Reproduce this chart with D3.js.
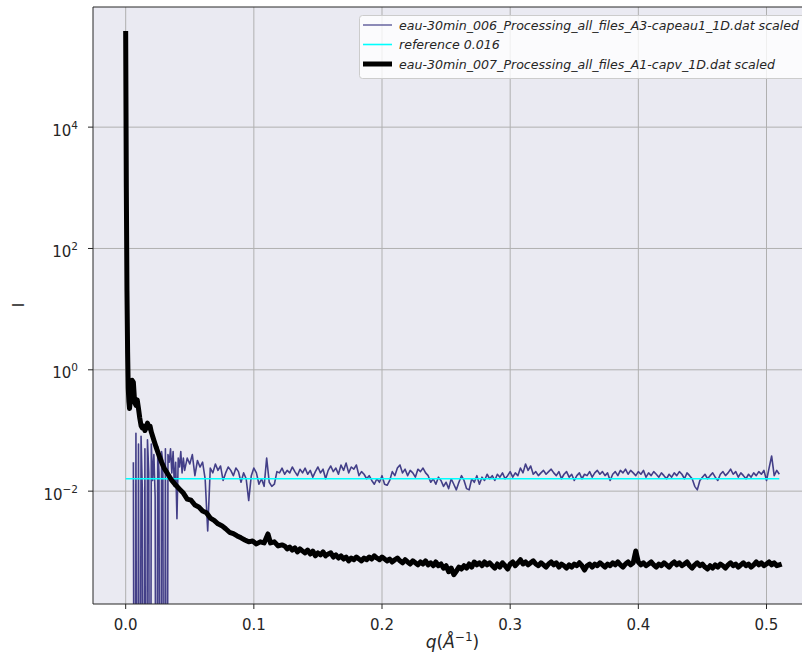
<!DOCTYPE html>
<html>
<head>
<meta charset="utf-8">
<script src="https://cdn.jsdelivr.net/npm/d3@7"></script>
<style>
  html, body { margin: 0; padding: 0; background: #ffffff; }
  svg { display: block; font-family: "DejaVu Sans", sans-serif; }
</style>
</head>
<body>
<svg id="chart" width="802" height="655"></svg>
<script>
// ---------- data ----------
const xTicks = [0.0, 0.1, 0.2, 0.3, 0.4, 0.5];
const xTickLabels = ["0.0", "0.1", "0.2", "0.3", "0.4", "0.5"];
const yTickExps = [-2, 0, 2, 4];

const seriesNames = [
  "eau-30min_006_Processing_all_files_A3-capeau1_1D.dat scaled",
  "reference 0.016",
  "eau-30min_007_Processing_all_files_A1-capv_1D.dat scaled"
];

// series 1 (blue, noisy curve)
const blueQ = [
  0.006,0.007,0.008,0.009,0.010,0.011,0.012,0.013,0.014,0.015,
  0.016,0.017,0.018,0.019,0.020,0.021,0.022,0.023,0.024,0.025,
  0.026,0.027,0.028,0.029,0.030,0.031,0.032,0.033,0.034,0.035,
  0.036,0.037,0.038,0.039,0.040,0.041,0.042,0.043,0.044,0.045,
  0.046,
  0.048,0.050,0.052,0.054,0.056,0.058,0.060,0.062,0.064,0.066,
  0.068,0.070,0.072,0.074,0.076,0.078,0.080,0.082,0.084,0.086,
  0.088,0.090,0.092,0.094,0.096,0.098,0.100,0.102,0.104,0.106,
  0.108,0.110,0.112,0.114,0.116,0.118,0.120,0.122,0.124,0.126,
  0.128,0.130,0.132,0.134,0.136,0.138,0.140,0.142,0.144,0.146,
  0.148,0.150,0.152,0.154,0.156,0.158,0.160,0.162,0.164,0.166,
  0.168,0.170,0.172,0.174,0.176,0.178,0.180,0.182,0.184,0.186,
  0.188,0.190,0.192,0.194,0.196,0.198,0.200,0.202,0.204,0.206,
  0.208,0.210,0.212,0.214,0.216,0.218,0.220,0.222,0.224,0.226,
  0.228,0.230,0.232,0.234,0.236,0.238,0.240,0.242,0.244,0.246,
  0.248,0.250,0.252,0.254,0.256,0.258,0.260,0.262,0.264,0.266,
  0.268,0.270,0.272,0.274,0.276,0.278,0.280,0.282,0.284,0.286,
  0.288,0.290,0.292,0.294,0.296,0.298,0.300,0.302,0.304,0.306,
  0.308,0.310,0.312,0.314,0.316,0.318,0.320,0.322,0.324,0.326,
  0.328,0.330,0.332,0.334,0.336,0.338,0.340,0.342,0.344,0.346,
  0.348,0.350,0.352,0.354,0.356,0.358,0.360,0.362,0.364,0.366,
  0.368,0.370,0.372,0.374,0.376,0.378,0.380,0.382,0.384,0.386,
  0.388,0.390,0.392,0.394,0.396,0.398,0.400,0.402,0.404,0.406,
  0.408,0.410,0.412,0.414,0.416,0.418,0.420,0.422,0.424,0.426,
  0.428,0.430,0.432,0.434,0.436,0.438,0.440,0.442,0.444,0.446,
  0.448,0.450,0.452,0.454,0.456,0.458,0.460,0.462,0.464,0.466,
  0.468,0.470,0.472,0.474,0.476,0.478,0.480,0.482,0.484,0.486,
  0.488,0.490,0.492,0.494,0.496,0.498,0.500,0.502,0.504,0.506,
  0.508,0.510
];
const blueI = [
  0.03,-0.02,0.09,-0.05,0.06,-0.03,0.08,0.01,-0.04,0.05,
  -0.02,0.07,0.02,-0.01,0.06,0.015,0.04,0.008,-0.03,0.055,
  0.02,-0.02,0.045,0.03,-0.01,0.05,-0.005,0.04,0.03,0.05,
  0.02,0.045,0.012,0.03,0.0035,0.035,0.025,0.045,0.02,0.035,
  0.022,
  0.035,0.028,0.04,0.018,0.032,0.025,0.03,0.016,0.0022,0.024,
  0.02,0.028,0.022,0.026,0.015,0.02,0.025,0.022,0.018,0.024,
  0.021,0.014,0.02,0.016,0.007,0.018,0.024,0.02,0.013,0.016,
  0.012,0.035,0.014,0.012,0.013,0.021,0.02,0.024,0.019,0.022,
  0.02,0.025,0.021,0.018,0.023,0.02,0.024,0.019,0.022,0.017,
  0.021,0.025,0.02,0.023,0.016,0.022,0.026,0.021,0.024,0.019,
  0.027,0.022,0.029,0.02,0.025,0.023,0.027,0.018,0.021,0.019,
  0.016,0.018,0.015,0.013,0.016,0.014,0.018,0.013,0.0125,0.015,
  0.021,0.018,0.024,0.027,0.02,0.023,0.018,0.022,0.02,0.017,
  0.023,0.021,0.024,0.02,0.018,0.014,0.016,0.013,0.017,0.015,
  0.012,0.014,0.011,0.016,0.013,0.0105,0.014,0.018,0.015,0.011,
  0.0105,0.016,0.014,0.018,0.013,0.017,0.015,0.019,0.016,0.018,
  0.015,0.019,0.017,0.02,0.016,0.018,0.021,0.017,0.02,0.018,
  0.024,0.02,0.028,0.022,0.026,0.019,0.021,0.018,0.02,0.022,
  0.019,0.021,0.023,0.02,0.018,0.021,0.016,0.019,0.021,0.017,
  0.019,0.015,0.018,0.02,0.016,0.019,0.018,0.021,0.017,0.02,
  0.022,0.019,0.021,0.018,0.02,0.015,0.019,0.021,0.018,0.022,
  0.02,0.023,0.019,0.022,0.02,0.018,0.021,0.019,0.022,0.017,
  0.02,0.018,0.021,0.019,0.017,0.02,0.018,0.016,0.019,0.017,
  0.02,0.018,0.021,0.019,0.016,0.02,0.018,0.016,0.012,0.0105,
  0.015,0.017,0.019,0.016,0.018,0.02,0.017,0.015,0.019,0.021,
  0.018,0.02,0.023,0.019,0.021,0.017,0.02,0.018,0.016,0.019,
  0.017,0.02,0.018,0.021,0.019,0.022,0.015,0.024,0.038,0.018,
  0.022,0.019
];

// series 2 (reference level)
const refQ = [0.0, 0.51];
const refI = [0.016, 0.016];

// series 3 (black, sample curve)
const blackQ = [
  0.0,0.0005,0.001,0.0015,0.002,0.0025,0.003,
  0.004,0.005,0.006,0.007,0.008,0.009,0.010,0.011,0.012,0.013,0.014,0.015,0.016,0.017,0.018,0.019,0.020,
  0.022,0.024,0.026,0.028,0.030,0.033,0.036,
  0.039,0.042,0.045,0.048,0.051,0.054,0.057,0.060,0.063,0.066,
  0.069,0.072,0.075,0.078,0.081,0.084,0.087,0.090,0.093,0.096,
  0.099,0.102,0.105,0.108,0.111,0.113,0.116,0.119,0.122,
  0.124,0.126,0.128,0.130,0.132,0.134,0.136,0.138,0.140,0.142,
  0.144,0.146,0.148,0.150,0.152,0.154,0.156,0.158,0.160,0.162,
  0.164,0.166,0.168,0.170,0.172,0.174,0.176,0.178,0.180,0.182,
  0.184,0.186,0.188,0.190,0.192,0.194,0.196,0.198,0.200,0.202,
  0.204,0.206,0.208,0.210,0.212,0.214,0.216,0.218,0.220,0.222,
  0.224,0.226,0.228,0.230,0.232,0.234,0.236,0.238,0.240,0.242,
  0.244,0.246,0.248,0.250,0.252,0.254,0.256,0.258,0.260,0.262,
  0.264,0.266,0.268,0.270,0.272,0.274,0.276,0.278,0.280,0.282,
  0.284,0.286,0.288,0.290,0.292,0.294,0.296,0.298,0.300,0.302,
  0.304,0.306,0.308,0.310,0.312,0.314,0.316,0.318,0.320,0.322,
  0.324,0.326,0.328,0.330,0.332,0.334,0.336,0.338,0.340,0.342,
  0.344,0.346,0.348,0.350,0.352,0.354,0.356,0.358,0.360,0.362,
  0.364,0.366,0.368,0.370,0.372,0.374,0.376,0.378,0.380,0.382,
  0.384,0.386,0.388,0.390,0.392,0.394,0.396,0.398,0.400,0.402,
  0.404,0.406,0.408,0.410,0.412,0.414,0.416,0.418,0.420,0.422,
  0.424,0.426,0.428,0.430,0.432,0.434,0.436,0.438,0.440,0.442,
  0.444,0.446,0.448,0.450,0.452,0.454,0.456,0.458,0.460,0.462,
  0.464,0.466,0.468,0.470,0.472,0.474,0.476,0.478,0.480,0.482,
  0.484,0.486,0.488,0.490,0.492,0.494,0.496,0.498,0.500,0.502,
  0.504,0.506,0.508,0.510
];
const blackI = [
  350000,1000,20,2,0.5,0.3,0.23,
  0.38,0.67,0.62,0.29,0.26,0.32,0.23,0.16,0.12,0.11,0.118,0.10,0.113,0.132,0.11,0.118,0.094,
  0.069,0.051,0.039,0.030,0.024,0.019,0.015,
  0.0126,0.0108,0.0093,0.0074,0.0071,0.0059,0.0055,0.0047,0.0044,0.0036,
  0.0033,0.0029,0.0027,0.0024,0.0021,0.0020,0.00183,0.00170,0.00157,0.00146,
  0.00151,0.00135,0.00146,0.00140,0.00197,0.00140,0.00146,0.00125,0.00130,
  0.00125,0.00112,0.00120,0.00107,0.00116,0.000996,0.00112,0.00103,0.00096,0.00107,
  0.00092,0.00103,0.00086,0.00096,0.00089,0.000996,0.00086,0.00092,0.00096,0.00082,
  0.00089,0.00079,0.00086,0.00076,0.00082,0.00071,0.00079,0.00074,0.00082,0.00076,
  0.00071,0.00079,0.00074,0.00082,0.00076,0.00086,0.00079,0.00074,0.00082,0.00076,
  0.00071,0.00076,0.00068,0.00074,0.00079,0.00071,0.00066,0.00074,0.00068,0.00063,
  0.00071,0.00066,0.00061,0.00068,0.00063,0.00071,0.00061,0.00066,0.00059,0.00068,
  0.00059,0.00063,0.00054,0.00059,0.00047,0.00054,0.00042,0.00048,0.00056,0.00052,
  0.00059,0.00054,0.00063,0.00056,0.00068,0.00061,0.00066,0.00059,0.00068,0.00061,
  0.00066,0.00059,0.00054,0.00063,0.00056,0.00066,0.00059,0.00052,0.00063,0.00068,
  0.00059,0.00066,0.00074,0.00063,0.00068,0.00061,0.00066,0.00071,0.00063,0.00059,
  0.00066,0.00061,0.00056,0.00063,0.00068,0.00061,0.00066,0.00056,0.00063,0.00059,
  0.00054,0.00061,0.00056,0.00063,0.00059,0.00066,0.00059,0.00050,0.00059,0.00063,
  0.00056,0.00063,0.00059,0.00066,0.00061,0.00056,0.00063,0.00059,0.00066,0.00061,
  0.00068,0.00061,0.00056,0.00063,0.00068,0.00061,0.00066,0.00103,0.00068,0.00061,
  0.00066,0.00059,0.00063,0.00068,0.00061,0.00056,0.00063,0.00059,0.00066,0.00061,
  0.00056,0.00063,0.00068,0.00061,0.00066,0.00059,0.00063,0.00068,0.00059,0.00054,
  0.00061,0.00066,0.00059,0.00063,0.00056,0.00052,0.00059,0.00054,0.00061,0.00056,
  0.00063,0.00059,0.00054,0.00061,0.00066,0.00059,0.00063,0.00056,0.00061,0.00066,
  0.00059,0.00063,0.00056,0.00061,0.00068,0.00061,0.00066,0.00059,0.00063,0.00068,
  0.00061,0.00066,0.00059,0.00061
];

// ---------- layout ----------
const plot = { left: 93, right: 812, top: 7, bottom: 604 };
const svg = d3.select("#chart");

const x = d3.scaleLinear().domain([-0.0255, 0.5355]).range([plot.left, plot.right]);
const y = d3.scaleLog().domain([Math.pow(10, -3.86), Math.pow(10, 5.98)]).range([plot.bottom, plot.top]);

svg.append("defs").append("clipPath").attr("id", "clip")
  .append("rect")
  .attr("x", plot.left).attr("y", plot.top)
  .attr("width", plot.right - plot.left).attr("height", plot.bottom - plot.top);

svg.append("rect")
  .attr("x", plot.left).attr("y", plot.top)
  .attr("width", plot.right - plot.left).attr("height", plot.bottom - plot.top)
  .attr("fill", "#eaeaf2");

// grid
const grid = svg.append("g").attr("clip-path", "url(#clip)");
grid.selectAll("line.gx").data(xTicks).enter().append("line")
  .attr("x1", d => x(d)).attr("x2", d => x(d))
  .attr("y1", plot.top).attr("y2", plot.bottom)
  .attr("stroke", "#b0b0b0").attr("stroke-width", 1);
grid.selectAll("line.gy").data(yTickExps).enter().append("line")
  .attr("x1", plot.left).attr("x2", plot.right)
  .attr("y1", d => y(Math.pow(10, d))).attr("y2", d => y(Math.pow(10, d)))
  .attr("stroke", "#b0b0b0").attr("stroke-width", 1);

// lines
const floorVal = 1e-12;
const line = d3.line()
  .x(d => x(d[0]))
  .y(d => y(d[1] > 0 ? d[1] : floorVal));

const lines = svg.append("g").attr("clip-path", "url(#clip)");
lines.append("path")
  .datum(blueQ.map((q, i) => [q, blueI[i]]))
  .attr("d", line)
  .attr("fill", "none")
  .attr("stroke", "#433f88")
  .attr("stroke-width", 1.6)
  .attr("stroke-linejoin", "round");
lines.append("path")
  .datum(refQ.map((q, i) => [q, refI[i]]))
  .attr("d", line)
  .attr("fill", "none")
  .attr("stroke", "#00ffff")
  .attr("stroke-width", 1.6);
lines.append("path")
  .datum(blackQ.map((q, i) => [q, blackI[i]]))
  .attr("d", line)
  .attr("fill", "none")
  .attr("stroke", "#000000")
  .attr("stroke-width", 5)
  .attr("stroke-linejoin", "round")
  .attr("stroke-linecap", "square");

// spines
const spines = svg.append("g").attr("stroke", "#262626").attr("stroke-width", 1);
spines.append("line").attr("x1", plot.left).attr("x2", plot.left).attr("y1", plot.top).attr("y2", plot.bottom);
spines.append("line").attr("x1", plot.left).attr("x2", plot.right).attr("y1", plot.bottom).attr("y2", plot.bottom);
spines.append("line").attr("x1", plot.left).attr("x2", plot.right).attr("y1", plot.top).attr("y2", plot.top);

// x axis ticks
const xAxisG = svg.append("g");
xAxisG.selectAll("line").data(xTicks).enter().append("line")
  .attr("x1", d => x(d)).attr("x2", d => x(d))
  .attr("y1", plot.bottom).attr("y2", plot.bottom + 5)
  .attr("stroke", "#262626").attr("stroke-width", 1);
xAxisG.selectAll("text").data(xTicks).enter().append("text")
  .attr("x", d => x(d)).attr("y", 630)
  .attr("text-anchor", "middle")
  .attr("font-size", 15).attr("fill", "#262626")
  .text((d, i) => xTickLabels[i]);

// y axis ticks
const yAxisG = svg.append("g");
yAxisG.selectAll("line").data(yTickExps).enter().append("line")
  .attr("x1", plot.left - 5).attr("x2", plot.left)
  .attr("y1", d => y(Math.pow(10, d))).attr("y2", d => y(Math.pow(10, d)))
  .attr("stroke", "#262626").attr("stroke-width", 1);
const yt = yAxisG.selectAll("text").data(yTickExps).enter().append("text")
  .attr("x", 78).attr("y", d => y(Math.pow(10, d)) + 8.5)
  .attr("text-anchor", "end")
  .attr("font-size", 15).attr("fill", "#262626");
yt.append("tspan").text("10");
yt.append("tspan").attr("dy", -7).attr("font-size", 10.5).text(d => d < 0 ? "\u2212" + Math.abs(d) : String(d));

// axis labels
const xl = svg.append("text")
  .attr("x", (plot.left + plot.right) / 2).attr("y", 648)
  .attr("text-anchor", "middle").attr("font-size", 17).attr("fill", "#262626");
xl.append("tspan").attr("font-style", "italic").text("q");
xl.append("tspan").text("(");
xl.append("tspan").attr("font-style", "italic").text("\u00c5");
xl.append("tspan").attr("dy", -7).attr("font-size", 12).text("\u22121");
xl.append("tspan").attr("dy", 7).text(")");

svg.append("text")
  .attr("transform", "translate(24,305) rotate(-90)")
  .attr("text-anchor", "middle").attr("font-size", 15).attr("fill", "#262626")
  .text("I");

// legend
const leg = svg.append("g");
leg.append("rect")
  .attr("x", 359.5).attr("y", 15.5).attr("width", 449).attr("height", 63)
  .attr("rx", 3).attr("ry", 3)
  .attr("fill", "#ffffff").attr("fill-opacity", 0.8)
  .attr("stroke", "#cccccc").attr("stroke-width", 1);
const legStyles = [
  { color: "#433f88", width: 1.6, opacity: 0.75 },
  { color: "#00ffff", width: 1.6, opacity: 1 },
  { color: "#000000", width: 5, opacity: 1 }
];
const legRows = [25, 44.5, 64];
seriesNames.forEach((name, i) => {
  leg.append("line")
    .attr("x1", 363).attr("x2", 392)
    .attr("y1", legRows[i]).attr("y2", legRows[i])
    .attr("stroke", legStyles[i].color)
    .attr("stroke-opacity", legStyles[i].opacity)
    .attr("stroke-width", legStyles[i].width);
  leg.append("text")
    .attr("x", 399).attr("y", legRows[i] + 4.5)
    .attr("font-size", 12.6).attr("font-style", "italic").attr("fill", "#262626")
    .text(name);
});
</script>
</body>
</html>
